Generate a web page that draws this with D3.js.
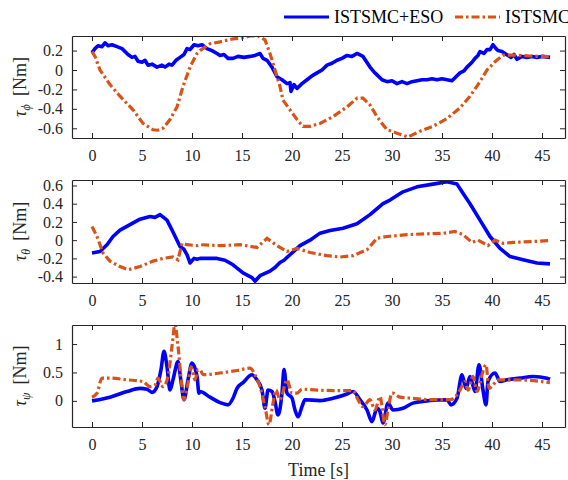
<!DOCTYPE html>
<html>
<head>
<meta charset="utf-8">
<script src="https://cdn.jsdelivr.net/npm/d3@7"></script>
<style>
  body { margin: 0; background: #fff; }
  svg { font-family: "Liberation Serif", "Times New Roman", serif; }
</style>
</head>
<body>
<script>
// ---- data (time [s], torque [Nm]) ----
const xTicks = [0, 5, 10, 15, 20, 25, 30, 35, 40, 45];
const seriesNames = ["ISTSMC+ESO", "ISTSMC"];

const phiEso = [[0,0.18],[0.3,0.22],[0.6,0.25],[1.0,0.24],[1.3,0.28],[1.6,0.25],[2.0,0.26],[2.5,0.24],[3.0,0.22],[3.3,0.19],[3.6,0.16],[4.0,0.13],[4.3,0.14],[4.6,0.09],[5.0,0.08],[5.3,0.1],[5.6,0.05],[6.0,0.06],[6.5,0.03],[7.0,0.05],[7.3,0.03],[7.7,0.06],[8.0,0.05],[8.4,0.1],[8.8,0.13],[9.2,0.16],[9.5,0.22],[9.8,0.21],[10.2,0.26],[10.6,0.25],[11.0,0.26],[11.5,0.22],[12.0,0.2],[12.5,0.17],[12.8,0.15],[13.2,0.16],[13.6,0.12],[14.1,0.12],[14.6,0.14],[15.2,0.13],[15.8,0.14],[16.3,0.15],[16.8,0.17],[17.1,0.12],[17.5,0.1],[18.0,0.03],[18.5,-0.07],[19.0,-0.1],[19.5,-0.14],[19.8,-0.13],[19.9,-0.22],[20.2,-0.15],[20.5,-0.19],[21.0,-0.14],[21.5,-0.1],[22.0,-0.06],[22.5,-0.03],[23.0,0.0],[23.5,0.05],[24.0,0.07],[24.5,0.1],[25.0,0.12],[25.5,0.15],[26.0,0.14],[26.5,0.17],[27.1,0.14],[27.8,0.03],[28.2,-0.02],[28.5,-0.05],[29.0,-0.1],[29.5,-0.12],[30.0,-0.11],[30.5,-0.14],[31.0,-0.12],[31.5,-0.14],[32.0,-0.12],[32.5,-0.11],[33.0,-0.1],[33.5,-0.1],[34.0,-0.09],[34.5,-0.1],[35.0,-0.09],[35.5,-0.1],[36.0,-0.11],[36.5,-0.06],[36.8,-0.03],[37.2,-0.01],[37.5,0.03],[38.0,0.08],[38.3,0.12],[38.6,0.15],[38.8,0.19],[39.2,0.17],[39.5,0.21],[39.8,0.21],[40.1,0.26],[40.4,0.22],[40.6,0.2],[41.0,0.19],[41.3,0.17],[41.6,0.15],[41.9,0.13],[42.2,0.16],[42.5,0.11],[43.0,0.14],[43.5,0.13],[44.0,0.14],[44.5,0.13],[45.0,0.14],[45.8,0.13]];
const phiSmc = [[0,0.19],[0.3,0.14],[0.8,0.0],[1.8,-0.15],[2.8,-0.27],[4.1,-0.41],[5.1,-0.55],[6.1,-0.615],[6.6,-0.62],[7.1,-0.6],[7.8,-0.51],[8.5,-0.38],[9.1,-0.17],[9.8,0.03],[10.5,0.17],[10.8,0.2],[11.8,0.27],[12.8,0.29],[14.1,0.32],[15.0,0.33],[15.8,0.35],[16.6,0.35],[17.3,0.31],[17.8,0.17],[18.3,0.0],[18.8,-0.17],[19.1,-0.31],[19.8,-0.41],[20.5,-0.51],[21.1,-0.58],[21.8,-0.58],[22.8,-0.55],[24.1,-0.48],[25.5,-0.38],[26.5,-0.29],[27.1,-0.29],[27.8,-0.36],[28.5,-0.48],[29.0,-0.55],[29.5,-0.615],[30.5,-0.65],[31.6,-0.69],[32.8,-0.63],[34.1,-0.58],[35.5,-0.5],[36.8,-0.39],[37.8,-0.27],[38.8,-0.12],[39.5,0.0],[40.3,0.085],[41.1,0.154],[42.1,0.154],[43.8,0.144],[45.8,0.137]];

const thetaEso = [[0,-0.14],[0.8,-0.125],[1.5,-0.05],[2.1,0.04],[2.8,0.11],[3.8,0.17],[4.8,0.23],[5.8,0.26],[6.3,0.25],[6.8,0.28],[7.5,0.22],[8.1,0.09],[8.8,-0.07],[9.2,-0.1],[9.5,-0.16],[9.8,-0.25],[10.2,-0.2],[10.5,-0.21],[10.8,-0.2],[12.5,-0.2],[13.3,-0.22],[14.1,-0.27],[15.1,-0.36],[16.0,-0.41],[16.3,-0.45],[16.8,-0.39],[17.8,-0.34],[18.3,-0.3],[18.8,-0.245],[19.2,-0.22],[19.8,-0.16],[20.8,-0.06],[21.8,0.0],[22.8,0.077],[23.8,0.105],[25.1,0.13],[26.5,0.18],[27.8,0.28],[29.1,0.4],[29.8,0.44],[31.1,0.53],[32.5,0.585],[34.1,0.615],[35.5,0.64],[36.5,0.615],[37.0,0.53],[37.8,0.4],[38.8,0.22],[39.8,0.04],[40.8,-0.09],[41.8,-0.18],[43.1,-0.215],[44.5,-0.25],[45.8,-0.26]];
const thetaSmc = [[0,0.15],[0.5,0.04],[1.1,-0.14],[1.8,-0.23],[2.8,-0.29],[3.6,-0.325],[4.8,-0.29],[6.1,-0.23],[7.1,-0.2],[8.1,-0.185],[8.6,-0.215],[9.0,-0.035],[9.5,-0.05],[10.5,-0.06],[10.8,-0.05],[12.8,-0.06],[14.8,-0.05],[16.5,-0.08],[17.5,0.02],[18.5,-0.06],[19.5,-0.125],[20.5,-0.09],[21.8,-0.135],[23.5,-0.17],[24.8,-0.185],[26.1,-0.17],[27.5,-0.105],[28.5,0.02],[29.5,0.04],[31.5,0.06],[33.5,0.07],[35.1,0.075],[36.3,0.095],[37.1,0.06],[38.0,-0.025],[38.6,0.0],[39.6,-0.06],[40.3,0.0],[41.1,-0.035],[42.1,-0.025],[44.1,-0.015],[45.8,-0.005]];

const psiEso = [[0,0],[1.8,0.065],[3.5,0.165],[4.8,0.22],[5.5,0.205],[6.0,0.15],[6.5,0.25],[6.9,0.55],[7.2,0.87],[7.5,0.6],[7.8,0.19],[8.1,0.37],[8.6,0.69],[8.9,0.34],[9.2,0.02],[9.6,0.37],[10.0,0.665],[10.5,0.43],[10.7,0.135],[10.8,0.165],[11.8,0.065],[12.8,-0.03],[13.6,-0.07],[14.1,0.045],[14.5,0.22],[15.1,0.32],[16.0,0.46],[16.5,0.37],[17.0,0.19],[17.3,-0.13],[17.6,0.19],[18.0,0.165],[18.3,-0.01],[18.6,-0.25],[19.0,0.135],[19.2,0.55],[19.5,0.135],[20.0,0.05],[20.3,-0.16],[20.6,-0.28],[21.0,-0.1],[21.3,0.02],[22.8,0.005],[24.1,0.045],[25.5,0.12],[26.1,0.165],[26.8,0.02],[27.5,-0.16],[28.0,-0.365],[28.5,-0.13],[28.8,-0.19],[29.1,-0.39],[29.6,-0.04],[30.1,-0.16],[31.1,-0.13],[32.1,-0.04],[33.8,0.005],[35.5,0.02],[35.9,-0.07],[36.5,0.045],[37.0,0.46],[37.4,0.22],[37.8,0.43],[38.3,0.165],[38.7,0.635],[39.1,0.19],[39.4,-0.07],[39.6,0.34],[40.3,0.49],[40.8,0.34],[41.5,0.37],[42.8,0.4],[44.1,0.43],[45.5,0.4],[45.8,0.38]];
const psiSmc = [[0,0.065],[0.5,0.135],[1.0,0.4],[1.8,0.4],[3.5,0.37],[5.1,0.34],[5.8,0.25],[6.3,0.28],[6.6,0.4],[7.1,0.25],[7.6,0.43],[8.0,0.96],[8.3,1.34],[8.6,0.96],[9.0,0.25],[9.2,0.02],[9.6,0.31],[9.9,0.6],[10.3,0.37],[10.6,0.55],[10.8,0.55],[11.1,0.46],[12.8,0.49],[14.5,0.535],[15.8,0.575],[16.3,0.46],[16.8,0.25],[17.3,-0.1],[17.7,-0.42],[18.1,-0.04],[18.4,0.19],[18.8,0.02],[19.5,0.37],[20.0,0.135],[20.5,0.135],[21.0,0.205],[22.5,0.19],[24.8,0.18],[26.1,0.18],[26.6,0.02],[27.1,-0.1],[27.8,0.02],[28.3,-0.16],[28.8,0.075],[29.3,-0.42],[29.6,-0.16],[30.0,0.135],[30.1,0.135],[30.8,0.065],[32.1,0.045],[33.8,0.02],[35.8,0.02],[36.3,0.065],[36.8,0.19],[37.3,0.34],[37.6,0.19],[38.1,0.43],[38.5,0.165],[39.1,0.52],[39.4,0.635],[39.7,0.22],[40.1,0.28],[40.6,0.37],[42.1,0.37],[43.8,0.36],[45.8,0.32]];

const phiTicks = [-0.6, -0.4, -0.2, 0, 0.2];
const thetaTicks = [-0.4, -0.2, 0, 0.2, 0.4, 0.6];
const psiTicks = [0, 0.5, 1];

// ---- layout ----
const W = 568, H = 480;
const left = 72, right = 565;
const blue = "#0000ff", orange = "#d95319", axisCol = "#262626";
const serif = "'Liberation Serif', 'Times New Roman', serif";

const panels = [
  { top: 36, bottom: 138, domain: [-0.7, 0.35], ticks: phiTicks, sub: "\u03d5", eso: phiEso, smc: phiSmc, curve: d3.curveLinear },
  { top: 180, bottom: 283, domain: [-0.47, 0.66], ticks: thetaTicks, sub: "\u03b8", eso: thetaEso, smc: thetaSmc, curve: d3.curveLinear },
  { top: 325, bottom: 427, domain: [-0.46, 1.335], ticks: psiTicks, sub: "\u03c8", eso: psiEso, smc: psiSmc, curve: d3.curveMonotoneX }
];

const svg = d3.select("body").append("svg")
  .attr("width", W).attr("height", H);

const x = d3.scaleLinear().domain([-2, 47.3]).range([left, right]);

panels.forEach((p, i) => {
  const y = d3.scaleLinear().domain(p.domain).range([p.bottom, p.top]);
  const g = svg.append("g");

  g.append("clipPath").attr("id", "clip" + i)
    .append("rect")
    .attr("x", left).attr("y", p.top)
    .attr("width", right - left).attr("height", p.bottom - p.top);

  const line = d3.line().x(d => x(d[0])).y(d => y(d[1])).curve(p.curve);

  const lines = g.append("g").attr("clip-path", "url(#clip" + i + ")");
  lines.append("path").datum(p.eso)
    .attr("d", line).attr("fill", "none")
    .attr("stroke", blue).attr("stroke-width", 3.6)
    .attr("stroke-linejoin", "round");
  lines.append("path").datum(p.smc)
    .attr("d", line).attr("fill", "none")
    .attr("stroke", orange).attr("stroke-width", 3.2)
    .attr("stroke-dasharray", "8,3,2.5,3");

  // axes, ticks pointing inward, box all round
  const xb = g.append("g").attr("transform", `translate(0,${p.bottom})`)
    .call(d3.axisBottom(x).tickValues(xTicks).tickSizeInner(-5).tickSizeOuter(0).tickPadding(12));
  const xt = g.append("g").attr("transform", `translate(0,${p.top})`)
    .call(d3.axisTop(x).tickValues(xTicks).tickSizeInner(-5).tickSizeOuter(0).tickFormat(""));
  const yl = g.append("g").attr("transform", `translate(${left},0)`)
    .call(d3.axisLeft(y).tickValues(p.ticks).tickSizeInner(-5).tickSizeOuter(0).tickPadding(9)
      .tickFormat(d => String(d)));
  const yr = g.append("g").attr("transform", `translate(${right},0)`)
    .call(d3.axisRight(y).tickValues(p.ticks).tickSizeInner(-5).tickSizeOuter(0).tickFormat(""));

  [xb, xt, yl, yr].forEach(a => {
    a.select(".domain").attr("stroke", axisCol).attr("stroke-width", 1.2);
    a.selectAll(".tick line").attr("stroke", axisCol).attr("stroke-width", 1);
    a.selectAll("text").attr("fill", axisCol).attr("font-size", 16)
      .attr("font-family", serif);
  });

  // y label: tau_sub [Nm]
  const cy = (p.top + p.bottom) / 2;
  const lab = g.append("text")
    .attr("transform", `translate(26,${cy}) rotate(-90)`)
    .attr("text-anchor", "middle")
    .attr("font-family", serif)
    .attr("fill", axisCol).attr("font-size", 18);
  lab.append("tspan").attr("font-style", "italic").text("\u03c4");
  lab.append("tspan").attr("font-style", "italic").attr("font-size", 12)
    .attr("dy", 4).text(p.sub);
  lab.append("tspan").attr("dy", -4).text("\u2009 [Nm]");
});

svg.append("text")
  .attr("x", (left + right) / 2).attr("y", 476)
  .attr("text-anchor", "middle")
  .attr("font-family", serif)
  .attr("fill", axisCol).attr("font-size", 18)
  .text("Time [s]");

// legend (the second entry runs off the right edge, as in the original)
const legend = svg.append("g");
const legItems = [
  { name: seriesNames[0], color: blue, dash: null, x0: 284 },
  { name: seriesNames[1], color: orange, dash: "8,3,2.5,3", x0: 455 }
];
legItems.forEach(it => {
  legend.append("line")
    .attr("x1", it.x0).attr("x2", it.x0 + 45)
    .attr("y1", 17).attr("y2", 17)
    .attr("stroke", it.color).attr("stroke-width", 3)
    .attr("stroke-dasharray", it.dash);
  legend.append("text")
    .attr("x", it.x0 + 50).attr("y", 23)
    .attr("font-family", serif)
    .attr("fill", "#000").attr("font-size", 18)
    .text(it.name);
});
</script>
</body>
</html>
